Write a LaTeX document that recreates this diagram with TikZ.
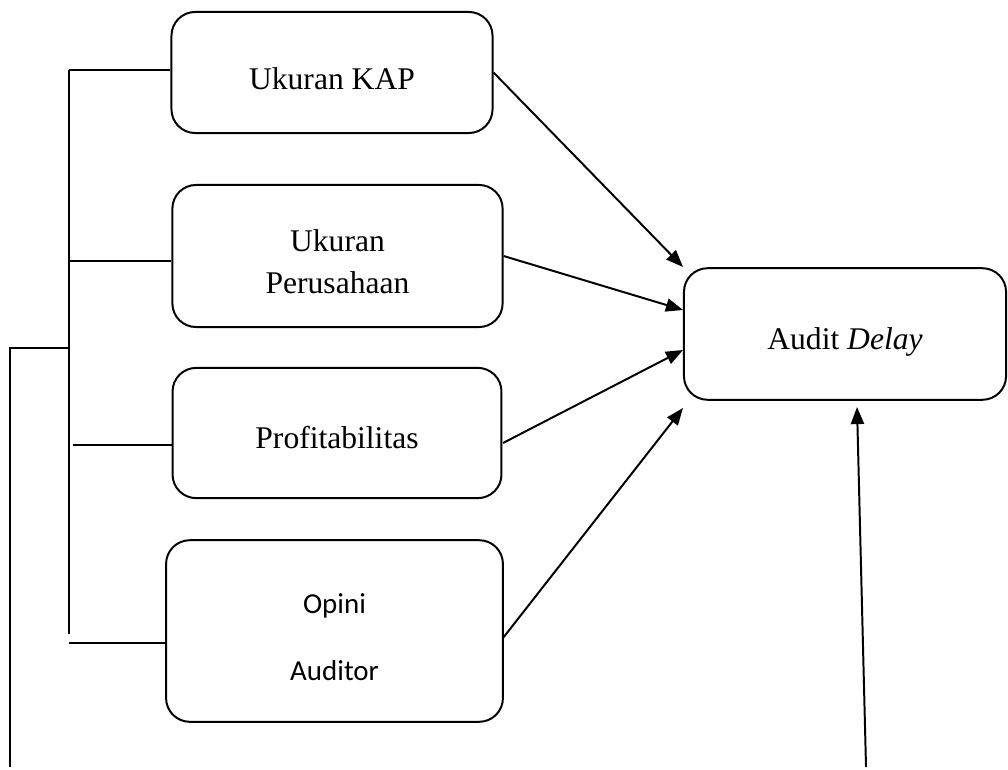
\documentclass[tikz,border=0pt]{standalone}
\usepackage{fontspec}
\setmainfont{Liberation Serif}
\newfontfamily\calibrifont{Carlito}
\usetikzlibrary{arrows.meta}

\tikzset{
  var/.style={draw, rounded corners=9pt, line width=0.75pt, align=center,
    inner sep=0pt, font=\fontsize{12}{16}\selectfont},
  link/.style={line width=0.75pt, -{Triangle[length=6.5pt,width=5pt]}},
  branch/.style={line width=0.75pt}
}

\begin{document}
\begin{tikzpicture}[x=0.38pt,y=-0.38pt]
\useasboundingbox (0,0) rectangle (1008,769);

% independent variables
\node[var, minimum width=122pt, minimum height=46pt, text height=12.8pt, text depth=0pt] (kap) at (332,72.5) {Ukuran KAP};
\node[var, minimum width=125.5pt, minimum height=54pt] (per) at (337.5,256) {\rule{0pt}{12.5pt}Ukuran\\Perusahaan};
\node[var, minimum width=125pt, minimum height=49.5pt, text height=12pt, text depth=0pt] (prof) at (337,433) {Profitabilitas};
\node[var, minimum width=128pt, minimum height=69pt, font=\calibrifont\fontsize{11}{25.5}\selectfont] (opini) at (334.5,631) {\rule{0pt}{12pt}Opini\\Auditor};

% dependent variable
\node[var, minimum width=122.4pt, minimum height=50pt, text height=14.2pt] (delay) at (845,334) {Audit \textit{Delay}};

% arrow ends
\coordinate (in1) at (683,267);
\coordinate (in2) at (683,310);
\coordinate (in3) at (683,350);
\coordinate (in4) at (683,408);
\coordinate (mod) at (866,767);
\coordinate (mod end) at (857,407);

\draw[link] (kap.east) -- (in1);
\draw[link] (per.east) -- (in2);
\draw[link] (503,443) -- (in3);
\draw[link] (503,638) -- (in4);
\draw[link] (mod) -- (mod end);

% left bracket
\coordinate (spine top) at (69,70);
\coordinate (spine bot) at (69,634);
\coordinate (joint) at (69,348);
\coordinate (foot) at (10,767);
\draw[branch] (spine top) -- (spine bot);
\foreach \b/\x/\y in {kap/69/70, per/69/261, prof/73/445, opini/69/643}
  \draw[branch] (\x,\y) -- (\b.west |- 0,\y);
\draw[branch] (foot) |- (joint);
\end{tikzpicture}
\end{document}
